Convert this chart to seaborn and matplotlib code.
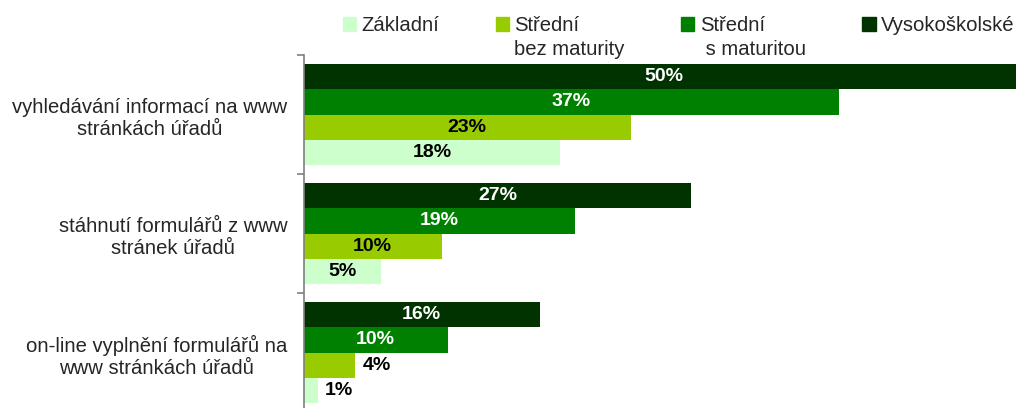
import numpy as np
import pandas as pd
import matplotlib
matplotlib.use("Agg")
import matplotlib.pyplot as plt
import seaborn as sns
from matplotlib.patches import Patch

# data
activities = ["vyhledávání informací na www\nstránkách úřadů",
              "stáhnutí formulářů z www\nstránek úřadů",
              "on-line vyplnění formulářů na\nwww stránkách úřadů"]
education = ["Vysokoškolské", "Střední s maturitou", "Střední bez maturity", "Základní"]
vysokoskolske = [50.0, 26.9, 16.4]
stredni_s_maturitou = [37.1, 18.8, 10.0]
stredni_bez_maturity = [22.7, 9.6, 3.6]
zakladni = [17.8, 5.4, 1.0]
colors = ["#003300", "#008000", "#99cc00", "#ccffcc"]
text_colors = ["white", "white", "black", "black"]

series = [vysokoskolske, stredni_s_maturitou, stredni_bez_maturity, zakladni]
rows = []
for edu, vals in zip(education, series):
    for act, v in zip(activities, vals):
        rows.append({"activity": act, "education": edu, "value": v})
df = pd.DataFrame(rows)

sns.set_style("white")
plt.rcParams["font.family"] = ["Liberation Sans", "DejaVu Sans"]

fig = plt.figure(figsize=(10.16, 4.08), dpi=100)
ax = fig.add_axes([303.5 / 1016, 0, 1 - 303.5 / 1016, 1 - 55 / 408])

sns.barplot(data=df, y="activity", x="value", hue="education",
            order=activities, hue_order=education, palette=colors,
            orient="h", width=0.855, dodge=True, errorbar=None,
            saturation=1, legend=False, linewidth=0, ax=ax)

ax.set_xlim(0, 49.4)
ax.set_ylim(2.466, -0.5)
ax.set_xlabel("")
ax.set_ylabel("")
ax.set_xticks([])

# value labels
for cont, tcol in zip(ax.containers, text_colors):
    for bar in cont:
        w = bar.get_width()
        yc = bar.get_y() + bar.get_height() / 2
        txt = f"{round(w)}%"
        if w < 5:
            ax.text(w + 0.5, yc, txt, ha="left", va="center",
                    fontsize=14, fontweight="bold", color="black")
        else:
            ax.text(w / 2, yc, txt, ha="center", va="center",
                    fontsize=14, fontweight="bold", color=tcol)

# axes styling
for s in ["top", "right", "bottom"]:
    ax.spines[s].set_visible(False)
ax.spines["left"].set_color("#808080")
ax.spines["left"].set_linewidth(1.2)
ax.set_yticks([0, 1, 2])
ax.set_yticklabels(activities, fontsize=14.6, multialignment="center")
ax.tick_params(axis="y", which="major", left=False, length=0, pad=11.5)
ax.set_yticks([-0.5, 0.5, 1.5], minor=True)
ax.tick_params(axis="y", which="minor", left=True, length=5, width=1.2,
               color="#808080", direction="out")

# legend: two rows, second row holds second line of labels
blank = Patch(facecolor="none", edgecolor="none")
handles = [Patch(color=colors[3]), blank,
           Patch(color=colors[2]), blank,
           Patch(color=colors[1]), blank,
           Patch(color=colors[0]), blank]
labels = ["Základní", "", "Střední", "bez maturity",
          "Střední", " s maturitou", "Vysokoškolské", ""]
fig.legend(handles, labels, ncol=4, loc="upper left",
           bbox_to_anchor=(343 / 1016, 1 - 16 / 408),
           frameon=False, fontsize=14.6, borderpad=0, borderaxespad=0,
           handlelength=0.65, handleheight=0.65, handletextpad=0.25,
           columnspacing=2.8, labelspacing=0.25)

fig.savefig("out.png", dpi=100)
